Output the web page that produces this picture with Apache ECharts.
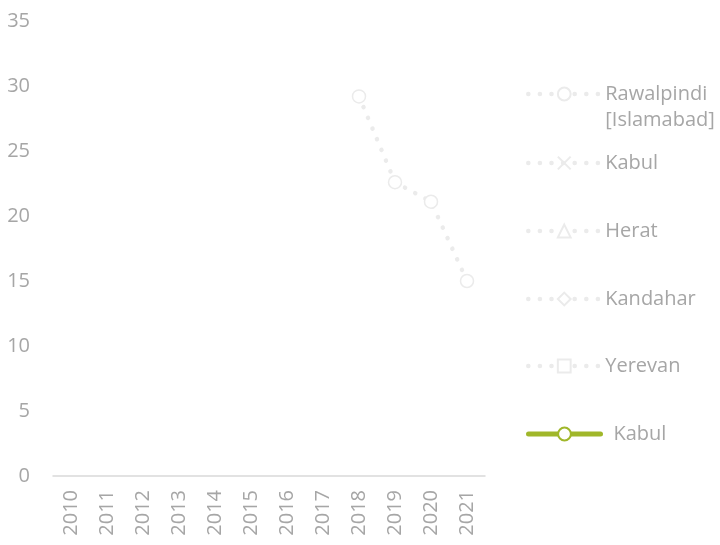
<!DOCTYPE html>
<html>
<head>
<meta charset="utf-8">
<script src="https://cdn.jsdelivr.net/npm/echarts@6/dist/echarts.min.js"></script>
<style>
    html, body { margin: 0; padding: 0; background: #fff; }
    #chart { width: 720px; height: 545px; }
</style>
</head>
<body>
<div id="chart"></div>
<script>
    // 数据
    var years = ['2010', '2011', '2012', '2013', '2014', '2015', '2016', '2017', '2018', '2019', '2020', '2021'];
    var rawalpindi = [null, null, null, null, null, null, null, null, 29.2, 22.6, 21.1, 15.0];
    var kabul = [null, null, null, null, null, null, null, null, null, null, null, null];
    var herat = [null, null, null, null, null, null, null, null, null, null, null, null];
    var kandahar = [null, null, null, null, null, null, null, null, null, null, null, null];
    var yerevan = [null, null, null, null, null, null, null, null, null, null, null, null];
    var kabul2 = [null, null, null, null, null, null, null, null, null, null, null, null];

    var grey = '#ebebeb';
    var green = '#a0b72a';
    var textColor = '#a6a6a6';
    var font = 'Open Sans';
    var dotLine = { color: grey, width: 4.5, type: [0.1, 11.5], cap: 'round' };

    var chart = echarts.init(document.getElementById('chart'));

    function dotted(name, data, symbol) {
        return {
            name: name,
            type: 'line',
            data: data,
            symbol: symbol,
            symbolSize: 13,
            showSymbol: true,
            lineStyle: dotLine,
            itemStyle: { color: '#fff', borderColor: grey, borderWidth: 1.5 }
        };
    }

    function legend(name, top, extra) {
        var l = {
            data: [name],
            orient: 'vertical',
            left: 526,
            top: top,
            padding: 0,
            itemWidth: 72,
            itemHeight: 16,
            selectedMode: false,
            lineStyle: dotLine,
            textStyle: { color: textColor, fontSize: 20, fontFamily: font }
        };
        return Object.assign(l, extra || {});
    }

    var option = {
        animation: false,
        grid: { left: 53, right: 235, top: 21, bottom: 69 },
        xAxis: {
            type: 'category',
            data: years,
            boundaryGap: true,
            axisTick: { show: false },
            axisLine: { lineStyle: { color: '#d9d9d9', width: 1.5 } },
            axisLabel: { rotate: 90, margin: 14, color: textColor, fontSize: 20, fontFamily: font }
        },
        yAxis: {
            type: 'value',
            min: 0,
            max: 35,
            interval: 5,
            axisLine: { show: false },
            axisTick: { show: false },
            splitLine: { show: false },
            axisLabel: { margin: 23, color: textColor, fontSize: 20, fontFamily: font }
        },
        legend: [
            legend('Rawalpindi [Islamabad]', 55, {
                // 空的第一行，让第一行文字和图标对齐
                formatter: function () { return ' \nRawalpindi\n[Islamabad]'; },
                textStyle: { color: textColor, fontSize: 20, fontFamily: font, lineHeight: 26 }
            }),
            legend('Kabul', 153),
            legend('Herat', 221),
            legend('Kandahar', 289),
            legend('Yerevan', 356),
            legend('Kabul ', 424, {
                lineStyle: { color: green, width: 5, cap: 'round' },
                textStyle: { color: textColor, fontSize: 20, fontFamily: font, padding: [0, 0, 0, 8] }
            })
        ],
        series: [
            dotted('Rawalpindi [Islamabad]', rawalpindi, 'circle'),
            dotted('Kabul', kabul, 'path://M0,0L10,10M10,0L0,10'),
            dotted('Herat', herat, 'triangle'),
            dotted('Kandahar', kandahar, 'diamond'),
            dotted('Yerevan', yerevan, 'rect'),
            {
                name: 'Kabul ',
                type: 'line',
                data: kabul2,
                symbol: 'circle',
                symbolSize: 13,
                lineStyle: { color: green, width: 5, cap: 'round' },
                itemStyle: { color: '#fff', borderColor: green, borderWidth: 2 }
            }
        ]
    };

    chart.setOption(option);
</script>
</body>
</html>
